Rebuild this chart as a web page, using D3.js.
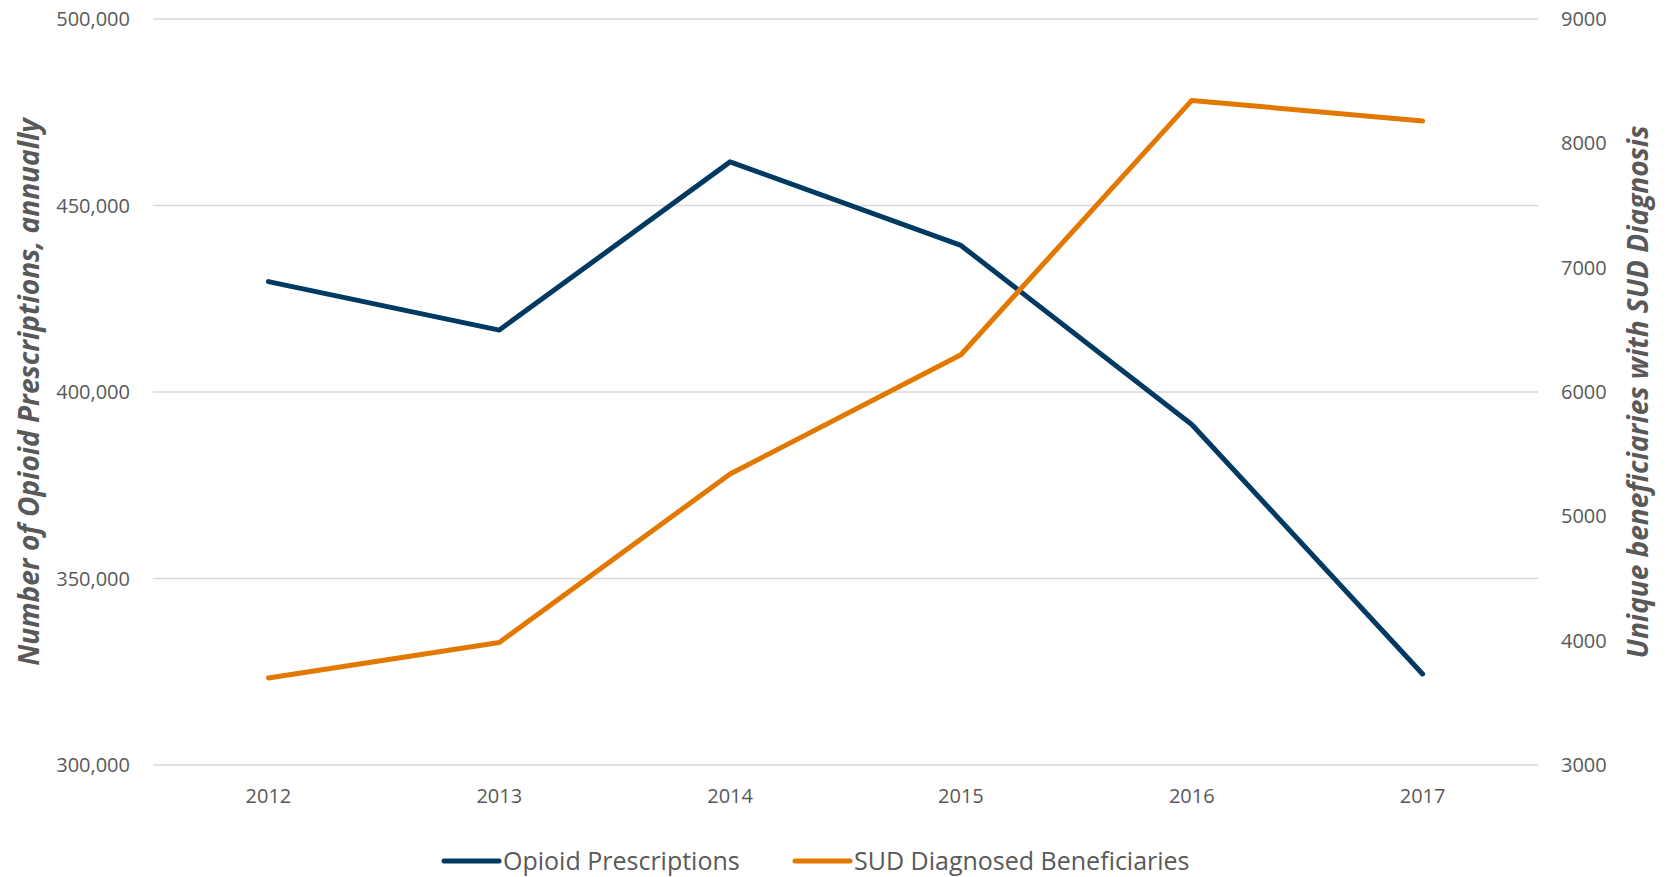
<!DOCTYPE html>
<html>
  <head>
    <style>
    body {
      font-family: "Open Sans", sans-serif;
      margin: 0;
      background: #fff;
    }
    </style>
  </head>
  <body>
    <script src="https://d3js.org/d3.v7.min.js"></script>
    <script>
    var years = ["2012", "2013", "2014", "2015", "2016", "2017"];
    var opioidPrescriptions = [429600, 416600, 461700, 439300, 391300, 324400];
    var sudBeneficiaries = [3700, 3985, 5340, 6300, 8345, 8180];
    var leftTicks = [300000, 350000, 400000, 450000, 500000];
    var rightTicks = [3000, 4000, 5000, 6000, 7000, 8000, 9000];
    var seriesNames = ["Opioid Prescriptions", "SUD Diagnosed Beneficiaries"];
    var seriesColors = ["#003a63", "#e37800"];

    var width = 1667, height = 877;
    var plotLeft = 153, plotRight = 1538, plotTop = 19, plotBottom = 765;

    var svg = d3.select("body").append("svg")
        .attr("width", width)
        .attr("height", height);

    var x = d3.scalePoint()
        .domain(years)
        .range([plotLeft, plotRight])
        .padding(0.5);

    var yLeft = d3.scaleLinear()
        .domain([300000, 500000])
        .range([plotBottom, plotTop]);

    var yRight = d3.scaleLinear()
        .domain([3000, 9000])
        .range([plotBottom, plotTop]);

    // gridlines
    svg.append("g")
        .selectAll("line")
        .data(leftTicks)
        .enter().append("line")
          .attr("x1", plotLeft)
          .attr("x2", plotRight)
          .attr("y1", function(d) { return yLeft(d); })
          .attr("y2", function(d) { return yLeft(d); })
          .attr("stroke", "#d9d9d9")
          .attr("stroke-width", 1.5);

    var fmt = d3.format(",");

    svg.append("g")
        .selectAll("text")
        .data(leftTicks)
        .enter().append("text")
          .attr("x", 130)
          .attr("y", function(d) { return yLeft(d); })
          .attr("dy", "0.35em")
          .attr("text-anchor", "end")
          .style("font-size", "20px")
          .style("fill", "#595959")
          .text(function(d) { return fmt(d); });

    svg.append("g")
        .selectAll("text")
        .data(rightTicks)
        .enter().append("text")
          .attr("x", 1561)
          .attr("y", function(d) { return yRight(d); })
          .attr("dy", "0.35em")
          .attr("text-anchor", "start")
          .style("font-size", "20px")
          .style("fill", "#595959")
          .text(function(d) { return d; });

    svg.append("g")
        .selectAll("text")
        .data(years)
        .enter().append("text")
          .attr("x", function(d) { return x(d); })
          .attr("y", 796)
          .attr("dy", "0.35em")
          .attr("text-anchor", "middle")
          .style("font-size", "20px")
          .style("fill", "#595959")
          .text(function(d) { return d; });

    // axis titles
    var midY = (plotTop + plotBottom) / 2;

    svg.append("text")
        .attr("transform", "translate(29," + midY + ") rotate(-90)")
        .attr("dy", "0.35em")
        .attr("text-anchor", "middle")
        .style("font-size", "28px")
        .style("font-weight", "bold")
        .style("font-style", "italic")
        .style("fill", "#595959")
        .text("Number of Opioid Prescriptions, annually");

    svg.append("text")
        .attr("transform", "translate(1638," + midY + ") rotate(-90)")
        .attr("dy", "0.35em")
        .attr("text-anchor", "middle")
        .style("font-size", "28px")
        .style("font-weight", "bold")
        .style("font-style", "italic")
        .style("fill", "#595959")
        .text("Unique beneficiaries with SUD Diagnosis");

    // lines
    var lineLeft = d3.line()
        .x(function(d, i) { return x(years[i]); })
        .y(function(d) { return yLeft(d); });

    var lineRight = d3.line()
        .x(function(d, i) { return x(years[i]); })
        .y(function(d) { return yRight(d); });

    svg.append("path")
        .datum(opioidPrescriptions)
        .attr("d", lineLeft)
        .attr("fill", "none")
        .attr("stroke", seriesColors[0])
        .attr("stroke-width", 5)
        .attr("stroke-linejoin", "round")
        .attr("stroke-linecap", "round");

    svg.append("path")
        .datum(sudBeneficiaries)
        .attr("d", lineRight)
        .attr("fill", "none")
        .attr("stroke", seriesColors[1])
        .attr("stroke-width", 5)
        .attr("stroke-linejoin", "round")
        .attr("stroke-linecap", "round");

    // legend
    var legendX = [444, 795];
    var legend = svg.append("g")
        .selectAll("g")
        .data(seriesNames)
        .enter().append("g")
          .attr("transform", function(d, i) { return "translate(" + legendX[i] + ",861)"; });

    legend.append("line")
        .attr("x1", 0)
        .attr("x2", 55)
        .attr("stroke", function(d, i) { return seriesColors[i]; })
        .attr("stroke-width", 5)
        .attr("stroke-linecap", "round");

    legend.append("text")
        .attr("x", 59)
        .attr("dy", "0.35em")
        .style("font-size", "25px")
        .style("fill", "#595959")
        .text(function(d) { return d; });
    </script>
  </body>
</html>
